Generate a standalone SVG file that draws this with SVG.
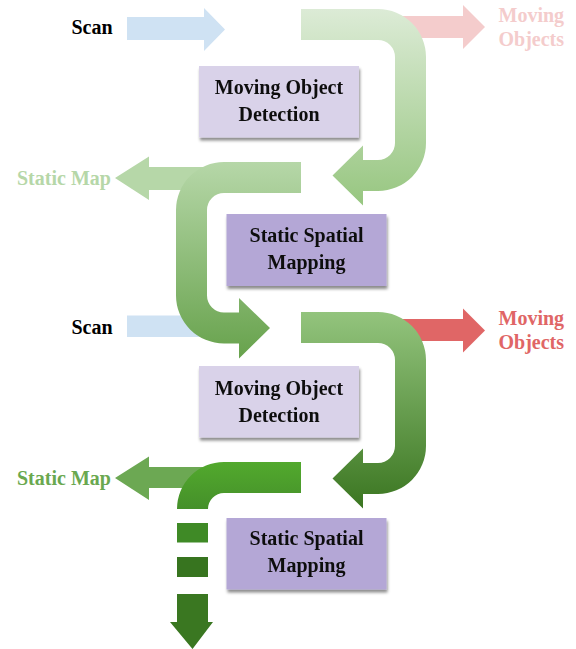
<svg xmlns="http://www.w3.org/2000/svg" width="576" height="649" viewBox="0 0 576 649">
  <style>
    .lbl { font-family: "Liberation Serif", "Times New Roman", serif; font-weight: bold; font-size: 20px; }
    .box-text { font-family: "Liberation Serif", "Times New Roman", serif; font-weight: bold; font-size: 20px; fill: #111; text-anchor: middle; }
    .detect { fill: #d9d2e9; }
    .mapping { fill: #b4a7d6; }
  </style>
  <defs>
    <linearGradient id="g1" x1="0" y1="0" x2="0" y2="1">
      <stop offset="0" stop-color="#dcebd6"/>
      <stop offset="1" stop-color="#97c680"/>
    </linearGradient>
    <linearGradient id="g2" x1="0" y1="0" x2="0" y2="1">
      <stop offset="0" stop-color="#b6d7a8"/>
      <stop offset="1" stop-color="#67a24c"/>
    </linearGradient>
    <linearGradient id="g3" x1="0" y1="0" x2="0" y2="1">
      <stop offset="0" stop-color="#93c47d"/>
      <stop offset="1" stop-color="#3b7621"/>
    </linearGradient>
    <linearGradient id="g4" x1="0" y1="0" x2="0" y2="1">
      <stop offset="0" stop-color="#52a92d"/>
      <stop offset="1" stop-color="#45902a"/>
    </linearGradient>
    <filter id="shadow" x="-10%" y="-10%" width="125%" height="135%">
      <feDropShadow dx="1" dy="3" stdDeviation="1.6" flood-color="#000" flood-opacity="0.45"/>
    </filter>
  </defs>

  <!-- side labels -->
  <g id="labels">
    <text class="lbl" x="71.5" y="34" fill="#000">Scan</text>
    <text class="lbl" x="498.5" y="21.5" fill="#f4cccc">Moving</text>
    <text class="lbl" x="498.5" y="45.5" fill="#f4cccc">Objects</text>
    <text class="lbl" x="17" y="185" fill="#b6d7a8">Static Map</text>
    <text class="lbl" x="71.5" y="334" fill="#000">Scan</text>
    <text class="lbl" x="498.5" y="324.5" fill="#e06666">Moving</text>
    <text class="lbl" x="498.5" y="348.5" fill="#e06666">Objects</text>
    <text class="lbl" x="17" y="484.5" fill="#6aa84f">Static Map</text>
  </g>

  <!-- connectors: straight input/output arrows first, curved flow arrows on top -->
  <g id="connectors">
    <path d="M127 17 H204 V8 L225 29.5 L204 51 V40 H127 Z" fill="#cfe2f3"/>
    <path d="M380 16 H463 V5 L485 27 L463 49 V38 H380 Z" fill="#f4cccc"/>
    <path d="M240 167 H149 V156.5 L115 178 L149 200 V190 H240 Z" fill="#b6d7a8"/>
    <rect x="127" y="315.5" width="90" height="21.5" fill="#cfe2f3"/>
    <path d="M380 319 H463 V308.5 L485 330.5 L463 352.5 V341 H380 Z" fill="#e06666"/>
    <path d="M230 467 H149 V456.5 L115 478 L149 500 V488 H230 Z" fill="#6ca853"/>

    <path d="M301 9 H378 A48 48 0 0 1 426 57 V143 A48 48 0 0 1 378 191 H363 V205.5 L332.5 175.5 L363 145.5 V160 H378 A17 17 0 0 0 395 143 V57 A17 17 0 0 0 378 40 H301 Z" fill="url(#g1)"/>
    <path d="M301 162 H224 A48 48 0 0 0 176 210 V295.5 A48 48 0 0 0 224 343.5 H239 V358.5 L270 328 L239 298 V312.5 H224 A17 17 0 0 1 207 295.5 V210 A17 17 0 0 1 224 193 H301 Z" fill="url(#g2)"/>
    <path d="M301 312 H378 A48 48 0 0 1 426 360 V446 A48 48 0 0 1 378 494 H363 V508.5 L332.5 478.5 L363 448.5 V463 H378 A17 17 0 0 0 395 446 V360 A17 17 0 0 0 378 343 H301 Z" fill="url(#g3)"/>
    <path d="M301 462 H224 A47 47 0 0 0 177 509 H208 A16 16 0 0 1 224 493 H301 Z" fill="url(#g4)"/>
    <rect x="177" y="523" width="31" height="19.5" fill="#3f8a26"/>
    <rect x="177" y="557" width="31" height="20" fill="#37741f"/>
    <path d="M177 594 H208 V622 H213 L192.5 649 L170 622 H177 Z" fill="#3a7721"/>
  </g>

  <!-- processing stages -->
  <g id="detect1" filter="url(#shadow)">
    <rect class="detect" x="199" y="66" width="160" height="71.5"/>
    <text class="box-text" x="279" y="94">Moving Object</text>
    <text class="box-text" x="279" y="121">Detection</text>
  </g>
  <g id="mapping1" filter="url(#shadow)">
    <rect class="mapping" x="226.5" y="214" width="160" height="72"/>
    <text class="box-text" x="306.5" y="242">Static Spatial</text>
    <text class="box-text" x="306.5" y="269">Mapping</text>
  </g>
  <g id="detect2" filter="url(#shadow)">
    <rect class="detect" x="199" y="366" width="160" height="71.5"/>
    <text class="box-text" x="279" y="394.5">Moving Object</text>
    <text class="box-text" x="279" y="421.5">Detection</text>
  </g>
  <g id="mapping2" filter="url(#shadow)">
    <rect class="mapping" x="226.5" y="518" width="160" height="71.5"/>
    <text class="box-text" x="306.5" y="545">Static Spatial</text>
    <text class="box-text" x="306.5" y="571.5">Mapping</text>
  </g>
</svg>
